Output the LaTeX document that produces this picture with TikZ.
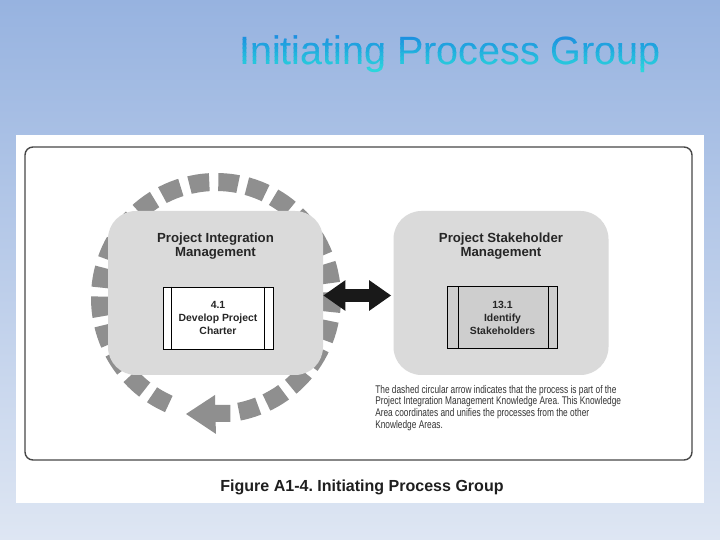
\documentclass[tikz,border=0pt]{standalone}
\usepackage{fontspec}
\setmainfont{Liberation Sans}
\newfontfamily\condfont[FakeStretch=0.75]{Liberation Sans}
\usetikzlibrary{arrows.meta}
\definecolor{bgtop}{RGB}{151,179,224}
\definecolor{bgbottom}{RGB}{222,230,243}
\definecolor{titleblue}{RGB}{26,136,224}
\definecolor{titlecyan}{RGB}{43,215,220}
\definecolor{ringgray}{RGB}{143,143,143}
\definecolor{areagray}{RGB}{218,218,218}
\definecolor{procgray}{RGB}{206,206,206}
\frenchspacing
\begin{document}
\begin{tikzpicture}[
        areabox/.style={fill=areagray, rounded corners=0.7cm, minimum width=5.375cm, minimum height=4.1cm},
        procbox/.style={draw=black, line width=0.6pt, minimum width=2.75cm, minimum height=1.55cm, align=center,
            font=\bfseries\fontsize{7.4}{9.2}\selectfont, text=black!85},
        areatitle/.style={align=center, font=\bfseries\fontsize{9.4}{9.9}\selectfont, text=black!85},
        titletext/.style={anchor=base, inner sep=0pt, font=\fontsize{28.1}{32}\selectfont}
    ]
        \useasboundingbox (0, 0) rectangle (18, 13.5);
        \shade[top color=bgtop, bottom color=bgbottom] (0, 0) rectangle (18, 13.5);

        % title, shaded from blue to cyan
        \foreach \i [evaluate=\i as \pct using int(100-11*\i), evaluate=\i as \yt using 12.72-0.105*\i] in {0,...,9} {
            \begin{scope}
                \clip (5, \yt) rectangle (17.5, \yt-0.115);
                \node[titletext, text=titleblue!\pct!titlecyan] (title) at (11.25, 11.875) {Initiating Process Group};
            \end{scope}
        }

        \fill[white] (0.4, 0.925) rectangle (17.6, 10.125);
        \draw[black!72, line width=1pt, rounded corners=0.2cm] (0.625, 2.0) rectangle (17.3, 9.825);

        % dashed ring with its arrow head
        \draw[ringgray, line width=0.45cm, dash pattern=on 0.5cm off 0.225cm, dash phase=0.5cm]
            (5.4, 6.05) ++(-83:2.9) arc[start angle=-83, end angle=246, radius=2.9];
        \fill[ringgray] (4.65, 3.15) -- (5.375, 3.625) -- (5.38, 3.375) -- (5.76, 3.375)
            -- (5.76, 2.95) -- (5.39, 2.95) -- (5.4, 2.65) -- cycle;

        \node[areabox] (pim) at (5.3875, 6.175) {};
        \node[areabox] (psm) at (12.525, 6.175) {};
        \node[areatitle] (pimtitle) at ([yshift=-0.875cm]pim.north) {Project Integration\\Management};
        \node[areatitle] (psmtitle) at ([yshift=-0.875cm]psm.north) {Project Stakeholder\\Management};

        \node[procbox, fill=white] (charter) at (5.45, 5.55) {4.1\\Develop Project\\Charter};
        \node[procbox, fill=procgray] (identify) at (12.5625, 5.5625) {13.1\\Identify\\Stakeholders};
        \draw[line width=0.5pt] ([xshift=0.225cm]charter.north west) -- ([xshift=0.225cm]charter.south west);
        \draw[line width=0.5pt] ([xshift=-0.225cm]charter.north east) -- ([xshift=-0.225cm]charter.south east);
        \draw[line width=0.5pt] ([xshift=0.275cm]identify.north west) -- ([xshift=0.275cm]identify.south west);
        \draw[line width=0.5pt] ([xshift=-0.25cm]identify.north east) -- ([xshift=-0.25cm]identify.south east);

        \draw[black!90, line width=0.325cm, {Triangle[length=0.55cm, width=0.725cm]}-{Triangle[length=0.55cm, width=0.725cm]}, shorten >=0.05cm]
            ([yshift=-0.0625cm]pim.east) -- ([yshift=-0.0625cm]psm.west);

        \node[anchor=north west, inner sep=0pt, align=left, text=black!80, font=\condfont\fontsize{7.9}{8.3}\selectfont] (note) at (9.375, 3.875)
            {The dashed circular arrow indicates that the process is part of the\\
            Project Integration Management Knowledge Area. This Knowledge\\
            Area coordinates and unifies the processes from the other\\
            Knowledge Areas.};

        \node[text=black!88, font=\bfseries\fontsize{11.4}{13}\selectfont] (caption) at (9.05, 1.325) {Figure A1-4. Initiating Process Group};
    \end{tikzpicture}
\end{document}
